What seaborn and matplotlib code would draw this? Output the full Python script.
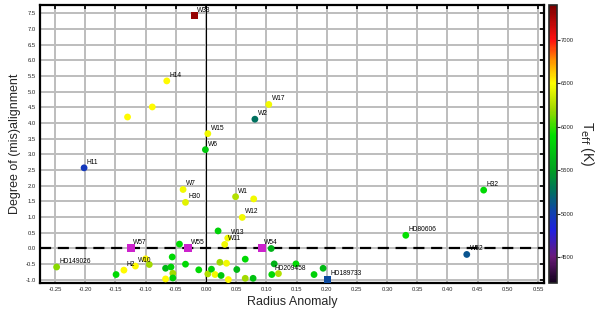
import numpy as np
import pandas as pd
import matplotlib
matplotlib.use("Agg")
import matplotlib.pyplot as plt
from matplotlib.colors import LinearSegmentedColormap, Normalize
import matplotlib.cm as cm
import seaborn as sns

sns.set_theme(style="white")
plt.rcParams['font.family'] = ['Liberation Sans', 'DejaVu Sans']

# ---- data ----
lab_names = ["W33", "H14", "W17", "W2", "W15", "W6", "H11", "W7", "H30", "W1", "W12",
             "W13", "W11", "H2", "W10", "HD149026", "HD209458", "HD189733", "HD80606",
             "W52", "H32"]
lab_x = [-0.019, -0.065, 0.104, 0.081, 0.003, -0.001, -0.202, -0.038, -0.034, 0.049, 0.060,
         0.036, 0.031, -0.136, -0.117, -0.2475, 0.109, 0.201, 0.331, 0.432, 0.460]
lab_y = [7.42, 5.34, 4.59, 4.12, 3.66, 3.15, 2.57, 1.88, 1.47, 1.65, 0.99,
         0.33, 0.13, -0.69, -0.56, -0.59, -0.83, -0.98, 0.42, -0.19, 1.86]
lab_teff = [7300, 6500, 6450, 5250, 6450, 5750, 4950, 6450, 6400, 6250, 6450,
            6450, 6450, 6500, 6500, 6150, 5850, 5050, 5900, 5100, 5850]
lab_marker = ["s", "o", "o", "o", "o", "o", "o", "o", "o", "o", "o",
              "o", "o", "o", "o", "o", "o", "s", "o", "o", "o"]

# squares with no colour-mapped temperature (drawn magenta)
mag_names = ["W57", "W55", "W54"]
mag_x = [-0.125, -0.030, 0.092]
mag_y = [0.0, 0.0, 0.0]

other_x = [-0.089, -0.130, 0.079, 0.020, 0.108, -0.094, -0.149, -0.100, -0.044, -0.056,
           -0.067, -0.058, -0.034, -0.012, -0.055, -0.055, -0.067, 0.003, 0.009, 0.015,
           0.025, 0.037, 0.023, 0.034, 0.065, 0.051, 0.065, 0.078, 0.113, 0.120,
           0.149, 0.179, 0.194]
other_y = [4.51, 4.19, 1.58, 0.56, 0.0, -0.51, -0.83, -0.33, 0.14, -0.27,
           -0.63, -0.59, -0.50, -0.68, -0.79, -0.94, -0.97, -0.81, -0.66, -0.83,
           -0.86, -0.99, -0.44, -0.47, -0.34, -0.67, -0.95, -0.95, -0.49, -0.80,
           -0.49, -0.83, -0.63]
other_teff = [6500, 6500, 6450, 5800, 5600, 6200, 5850, 6500, 5850, 5850,
              5650, 5800, 5850, 5850, 6200, 5800, 6500, 6250, 5800, 6450,
              5750, 6500, 6200, 6450, 5850, 5650, 6200, 5700, 5600, 6250,
              5850, 5800, 5650]

x_ticks = [-0.25, -0.20, -0.15, -0.10, -0.05, 0.00, 0.05, 0.10, 0.15, 0.20, 0.25,
           0.30, 0.35, 0.40, 0.45, 0.50, 0.55]
y_ticks = [-1.0, -0.5, 0.0, 0.5, 1.0, 1.5, 2.0, 2.5, 3.0, 3.5, 4.0, 4.5, 5.0, 5.5,
           6.0, 6.5, 7.0, 7.5]
cb_ticks = [4500, 5000, 5500, 6000, 6500, 7000]
teff_min, teff_max = 4200, 7400

# ---- colormap ----
stops = [(4200, "#12001c"), (4500, "#6a1a7a"), (4800, "#2020e0"), (5000, "#1040b0"),
         (5250, "#007060"), (5500, "#00a020"), (5900, "#00e000"), (6200, "#a0d800"),
         (6500, "#ffff00"), (6750, "#ff9800"), (7000, "#ff1010"), (7400, "#7a0000")]
cmap = LinearSegmentedColormap.from_list(
    "teff", [((t - teff_min) / (teff_max - teff_min), c) for t, c in stops])
norm = Normalize(teff_min, teff_max)

df_lab = pd.DataFrame({"name": lab_names, "x": lab_x, "y": lab_y, "teff": lab_teff,
                       "m": lab_marker})
df_oth = pd.DataFrame({"x": other_x, "y": other_y, "teff": other_teff})
df_mag = pd.DataFrame({"name": mag_names, "x": mag_x, "y": mag_y})

fig = plt.figure(figsize=(6, 3.11), dpi=100)
ax = fig.add_axes([0.0667, 0.09, 0.84, 0.894])
cax = fig.add_axes([0.915, 0.09, 0.0133, 0.894])

ax.grid(True, color="#bdbdbd", lw=1.4)
ax.set_axisbelow(True)

ax.axvline(0, color="black", lw=0.8, zorder=1)
ax.axhline(0, color="black", lw=1.6, dashes=(5, 3), zorder=1)

sns.scatterplot(data=df_oth, x="x", y="y", hue="teff", palette=cmap, hue_norm=norm,
                s=24, linewidth=0, marker="o", legend=False, ax=ax, zorder=3)
for mk in ["o", "s"]:
    sub = df_lab[df_lab["m"] == mk]
    sns.scatterplot(data=sub, x="x", y="y", hue="teff", palette=cmap, hue_norm=norm,
                    s=24 if mk == "o" else 22, linewidth=0, marker=mk, legend=False,
                    ax=ax, zorder=3)
sns.scatterplot(data=df_mag, x="x", y="y", color="#cc22cc", s=36, marker="s",
                linewidth=0, legend=False, ax=ax, zorder=3)

for d in (df_lab, df_mag):
    for _, r in d.iterrows():
        ax.annotate(r["name"], (r["x"], r["y"]), xytext=(2, 1.5),
                    textcoords="offset points", fontsize=4.8, color="black",
                    ha="left", va="bottom", zorder=4)

ax.set_xlim(-0.275, 0.56)
ax.set_ylim(-1.1, 7.76)
ax.set_xticks(x_ticks)
ax.set_xticklabels([f"{v:.2f}" for v in x_ticks])
ax.set_yticks(y_ticks)
ax.set_yticklabels([f"{v:.1f}" for v in y_ticks])
ax.tick_params(axis="both", labelsize=4.2, direction="in", length=3, width=1.2,
               top=True, right=True, color="black", pad=3)
for sp in ax.spines.values():
    sp.set_color("black")
    sp.set_linewidth(1.6)
ax.set_xlabel("Radius Anomaly", fontsize=9, labelpad=3)
ax.set_ylabel("Degree of (mis)alignment", fontsize=9, labelpad=3)

sm = cm.ScalarMappable(norm=norm, cmap=cmap)
cb = fig.colorbar(sm, cax=cax, ticks=cb_ticks)
cb.ax.tick_params(labelsize=4.2, length=2, width=0.8, direction="out", pad=1)
cb.outline.set_linewidth(1.2)
cb.set_label("T$_{\\rm eff}$ (K)", rotation=270, fontsize=10, labelpad=16)

fig.savefig("out.png", dpi=100)
